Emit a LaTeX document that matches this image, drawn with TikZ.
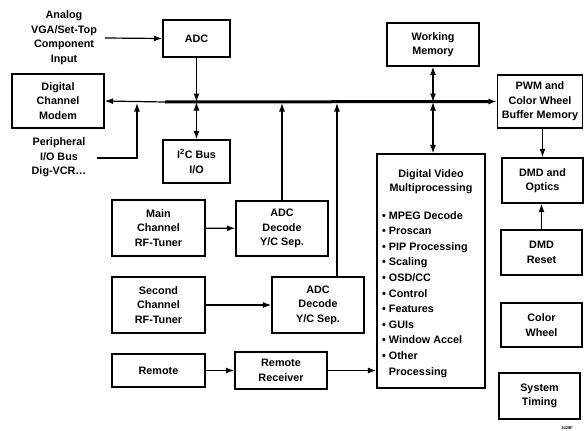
\documentclass[tikz,border=0pt]{standalone}
\usepackage{fontspec}
\setmainfont{Liberation Sans}
\usetikzlibrary{arrows.meta}
\begin{document}
\begin{tikzpicture}[x=1pt,y=-1pt,
  >={Latex[length=8.5pt,width=6pt]},
  box/.style={draw,line width=1.3pt,inner sep=1pt,align=center,
    font=\fontsize{10.8}{14.5}\selectfont\bfseries},
  lbl/.style={inner sep=0pt,align=center,font=\fontsize{10.8}{14.5}\selectfont\bfseries},
  conn/.style={line width=1.2pt},
  bus/.style={line width=3pt}]
\useasboundingbox (0,0) rectangle (584,431);
% text labels
\node[lbl] (analog) at (64,37.5) {Analog\\VGA/Set-Top\\Component\\Input};
\node[lbl] (periph) at (59,157.5) {Peripheral\\I/O Bus\\Dig-VCR\ldots};
% boxes
\node[box,minimum width=67,minimum height=37] (adc) at (196.5,38.5) {ADC};
\node[box,minimum width=92,minimum height=54] (modem) at (58,101) {Digital\\Channel\\Modem};
\node[box,minimum width=67,minimum height=43] (pcbus) at (196.5,161.5) {I\textsuperscript{2}C Bus\\I/O};
\node[box,minimum width=92,minimum height=43] (wm) at (433,44.5) {Working\\Memory};
\node[box,minimum width=85,minimum height=53] (pwm) at (540,101.5) {PWM and\\Color Wheel\\Buffer Memory};
\node[box,minimum width=81,minimum height=45] (dmdopt) at (542.5,180.5) {DMD and\\Optics};
\node[box,minimum width=81,minimum height=45] (dmdreset) at (541.5,252.5) {DMD\\Reset};
\node[box,minimum width=81,minimum height=44] (cwheel) at (541.5,325) {Color\\Wheel};
\node[box,minimum width=81,minimum height=46] (systime) at (539.5,396) {System\\Timing};
\node[box,minimum width=108,minimum height=234] (dvm) at (431,271) {};
\node[lbl,anchor=north] (dvmtitle) at (431,169) {Digital Video\\Multiprocessing};
\node[lbl,anchor=north west,align=left,font=\fontsize{10.8}{15.6}\selectfont\bfseries] (dvmlist) at (382,211)
  {\textbullet\ MPEG Decode\\\textbullet\ Proscan\\\textbullet\ PIP Processing\\\textbullet\ Scaling\\\textbullet\ OSD/CC\\\textbullet\ Control\\\textbullet\ Features\\\textbullet\ GUIs\\\textbullet\ Window Accel\\\textbullet\ Other\\\phantom{\textbullet\ }Processing};
\node[box,minimum width=93,minimum height=56] (main) at (158.5,228) {Main\\Channel\\RF-Tuner};
\node[box,minimum width=92,minimum height=55] (adcd1) at (282,228.5) {ADC\\Decode\\Y/C Sep.};
\node[box,minimum width=93,minimum height=56] (second) at (158.5,305) {Second\\Channel\\RF-Tuner};
\node[box,minimum width=92,minimum height=56] (adcd2) at (318,305) {ADC\\Decode\\Y/C Sep.};
\node[box,minimum width=93,minimum height=33] (remote) at (158.5,370.5) {Remote};
\node[box,minimum width=92,minimum height=37] (rrecv) at (281,370.5) {Remote\\Receiver};
\node[inner sep=0pt,font=\fontsize{4}{4}\selectfont\bfseries] (fig) at (567,428) {3429F};
% coordinates
\coordinate (busA) at (165,102);
\coordinate (ain) at (105,38);
\coordinate (pin) at (97,158);
\coordinate (pbus) at (137,103);
\coordinate (a2t) at (337,277);
% bus
\draw[conn,->] (busA) -- (modem.east);
\draw[bus,->] (busA) -- (pwm.west);
% connectors
\draw[conn,->] (ain) -- (adc.west);
\draw[conn,->] (pin) -| (pbus);
\draw[conn,->] (adc.south) -- (adc.south |- busA);
\draw[conn,<->] (adc.south |- busA) -- (pcbus.north);
\draw[conn,<->] (wm.south) -- (wm.south |- busA);
\draw[conn,<->] (wm.south |- busA) -- (wm.south |- dvm.north);
\draw[conn,->] (adcd1.north) -- (adcd1.north |- pbus);
\draw[conn,->] (a2t) -- (a2t |- pbus);
\draw[conn,->] (main) -- (adcd1);
\draw[conn,->] (second) -- (adcd2);
\draw[conn,->] (remote) -- (rrecv);
\draw[conn,->] (rrecv.east) -- (rrecv.east -| dvm.west);
\draw[conn,->] (pwm.south -| dmdopt.north) -- (dmdopt.north);
\draw[conn,->] (dmdreset.north) -- (dmdreset.north |- dmdopt.south);
\end{tikzpicture}
\end{document}
